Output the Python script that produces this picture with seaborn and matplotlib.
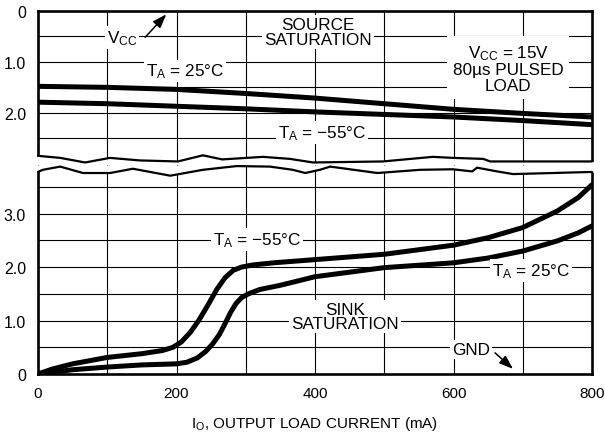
import matplotlib
matplotlib.use("Agg")
import matplotlib.pyplot as plt
import seaborn as sns
import pandas as pd

# ---- data ----
# source saturation (top panel), volts below Vcc
src_current = [0, 100, 200, 300, 400, 500, 600, 700, 800]
src_25 = [1.48, 1.50, 1.54, 1.62, 1.71, 1.82, 1.93, 2.01, 2.08]
src_m55 = [1.79, 1.82, 1.87, 1.92, 1.98, 2.03, 2.08, 2.15, 2.23]

# sink saturation (bottom panel), volts above GND
sink_m55_current = [0, 20, 50, 100, 150, 180, 195, 207, 220, 232, 245, 258, 270, 282,
                    294, 310, 340, 400, 500, 600, 650, 700, 750, 780, 800]
sink_m55 = [0, 0.09, 0.19, 0.31, 0.38, 0.44, 0.50, 0.60, 0.78, 1.00, 1.28, 1.58, 1.80, 1.94,
            2.00, 2.04, 2.08, 2.14, 2.24, 2.41, 2.55, 2.74, 3.05, 3.30, 3.54]
sink_25_current = [0, 20, 50, 100, 150, 200, 215, 230, 242, 252, 262, 270, 278, 286,
                   294, 304, 320, 350, 400, 500, 600, 650, 700, 750, 780, 800]
sink_25 = [0, 0.03, 0.08, 0.13, 0.17, 0.19, 0.22, 0.30, 0.42, 0.56, 0.74, 0.94, 1.15, 1.32,
           1.43, 1.50, 1.58, 1.66, 1.82, 1.99, 2.08, 2.17, 2.30, 2.49, 2.64, 2.77]

# axis break outlines (decoration)
top_break_x = [0, 32, 68, 104, 147, 202, 238, 266, 325, 364, 397, 498, 570, 599, 643, 653, 800]
top_break_y = [2.84, 2.88, 2.97, 2.88, 2.93, 2.95, 2.83, 2.91, 2.86, 2.90, 2.97, 2.95,
               2.86, 2.88, 2.90, 2.95, 2.95]
bot_break_x = [0, 7, 32, 65, 104, 137, 191, 238, 287, 335, 368, 386, 407, 422, 490, 552,
               599, 627, 634, 663, 686, 800]
bot_break_y = [3.78, 3.82, 3.88, 3.76, 3.76, 3.84, 3.71, 3.82, 3.89, 3.88, 3.82, 3.76,
               3.82, 3.88, 3.76, 3.82, 3.83, 3.79, 3.86, 3.79, 3.74, 3.78]

x_ticks = [0, 100, 200, 300, 400, 500, 600, 700, 800]
x_labels = ["0", "", "200", "", "400", "", "600", "", "800"]
top_ticks = [0, 0.5, 1.0, 1.5, 2.0, 2.5]
top_labels = ["0", "", "1.0", "", "2.0", ""]
bot_ticks = [0, 0.5, 1.0, 1.5, 2.0, 2.5, 3.0, 3.5]
bot_labels = ["0", "", "1.0", "", "2.0", "", "3.0", ""]

src = pd.DataFrame({"I": src_current * 2, "V": src_25 + src_m55,
                    "T": ["25"] * len(src_current) + ["-55"] * len(src_current)})
sink = pd.DataFrame({"I": sink_25_current + sink_m55_current, "V": sink_25 + sink_m55,
                     "T": ["25"] * len(sink_25_current) + ["-55"] * len(sink_m55_current)})

sns.set_theme(style="white")
plt.rcParams["font.family"] = ["Liberation Sans", "DejaVu Sans"]
plt.rcParams["mathtext.default"] = "regular"

fig = plt.figure(figsize=(6.05, 4.35), dpi=100)
W, H = 605, 435
L, R = 38, 592
ax_top = fig.add_axes([L / W, 1 - 164.5 / H, (R - L) / W, (164.5 - 11.7) / H])
ax_bot = fig.add_axes([L / W, 1 - 375 / H, (R - L) / W, (375 - 166) / H])

TOP_LIM = (2.99, 0)
BOT_LIM = (0, 3.91)

for ax, data, ticks, labels, lim in [(ax_top, src, top_ticks, top_labels, TOP_LIM),
                                     (ax_bot, sink, bot_ticks, bot_labels, BOT_LIM)]:
    sns.lineplot(data=data, x="I", y="V", units="T", estimator=None, color="black",
                 lw=3.6, ax=ax, zorder=4, sort=False, legend=False)
    ax.set_xlim(0, 800)
    ax.set_ylim(*lim)
    ax.set_xticks(x_ticks)
    ax.set_yticks(ticks)
    ax.set_yticklabels(labels)
    ax.grid(True, color="black", lw=0.8)
    ax.tick_params(length=0, labelsize=11.5, pad=8.5, colors="black")
    ax.set_xlabel("")
    ax.set_ylabel("")
    for s in ax.spines.values():
        s.set_color("black")
        s.set_linewidth(1.9)

ax_top.set_xticklabels([])
ax_bot.set_xticklabels(x_labels, fontsize=11)

# break: white out grid past the wavy edge, then draw the edge
ax_top.fill_between([-6] + top_break_x + [806], [top_break_y[0]] + top_break_y + [top_break_y[-1]],
                    TOP_LIM[0], color="white", zorder=2.7, clip_on=False, lw=0)
ax_top.plot(top_break_x, top_break_y, color="black", lw=1.6, zorder=3, clip_on=False)
ax_top.spines["bottom"].set_visible(False)
ax_top.spines["left"].set_bounds(0, top_break_y[0])
ax_top.spines["right"].set_bounds(0, top_break_y[-1])

ax_bot.fill_between([-6] + bot_break_x + [806], [bot_break_y[0]] + bot_break_y + [bot_break_y[-1]],
                    BOT_LIM[1], color="white", zorder=2.7, clip_on=False, lw=0)
ax_bot.plot(bot_break_x, bot_break_y, color="black", lw=1.6, zorder=3, clip_on=False)
ax_bot.spines["top"].set_visible(False)
ax_bot.spines["left"].set_bounds(0, bot_break_y[0])
ax_bot.spines["right"].set_bounds(0, bot_break_y[-1])

box = dict(facecolor="white", edgecolor="none", pad=1.5)
kw = dict(ha="center", va="center", fontsize=12.3, color="black", zorder=5,
          linespacing=0.95, bbox=box)

ax_top.annotate("", xy=(188, 0.03), xytext=(152, 0.56),
                arrowprops=dict(arrowstyle="-|>,head_length=0.7,head_width=0.25",
                                color="black", lw=1.1), zorder=5)
ax_top.text(121, 0.52, "V$_{CC}$", **kw)
ax_top.text(404, 0.42, "SOURCE\nSATURATION", **kw)
ax_top.text(679, 1.12, "V$_{CC}$ = 15V\n80µs PULSED\nLOAD",
            **{**kw, "linespacing": 1.05, "bbox": dict(facecolor="white", edgecolor="none", pad=4)})
ax_top.text(212, 1.18, "T$_A$ = 25°C", **kw)
ax_top.text(410, 2.39, "T$_A$ = −55°C", **kw)

ax_bot.text(316, 2.52, "T$_A$ = −55°C", **kw)
ax_bot.text(712, 1.94, "T$_A$ = 25°C", **kw)
ax_bot.text(443, 1.08, "SINK\nSATURATION", **kw)
ax_bot.text(625, 0.45, "GND", **kw)
ax_bot.annotate("", xy=(689, 0.06), xytext=(657, 0.43),
                arrowprops=dict(arrowstyle="-|>,head_length=0.7,head_width=0.25",
                                color="black", lw=1.1), zorder=5)

ax_bot.set_xlabel("I$_O$, OUTPUT LOAD CURRENT (mA)", fontsize=11, labelpad=10, color="black")

fig.savefig("out.png", dpi=100)
